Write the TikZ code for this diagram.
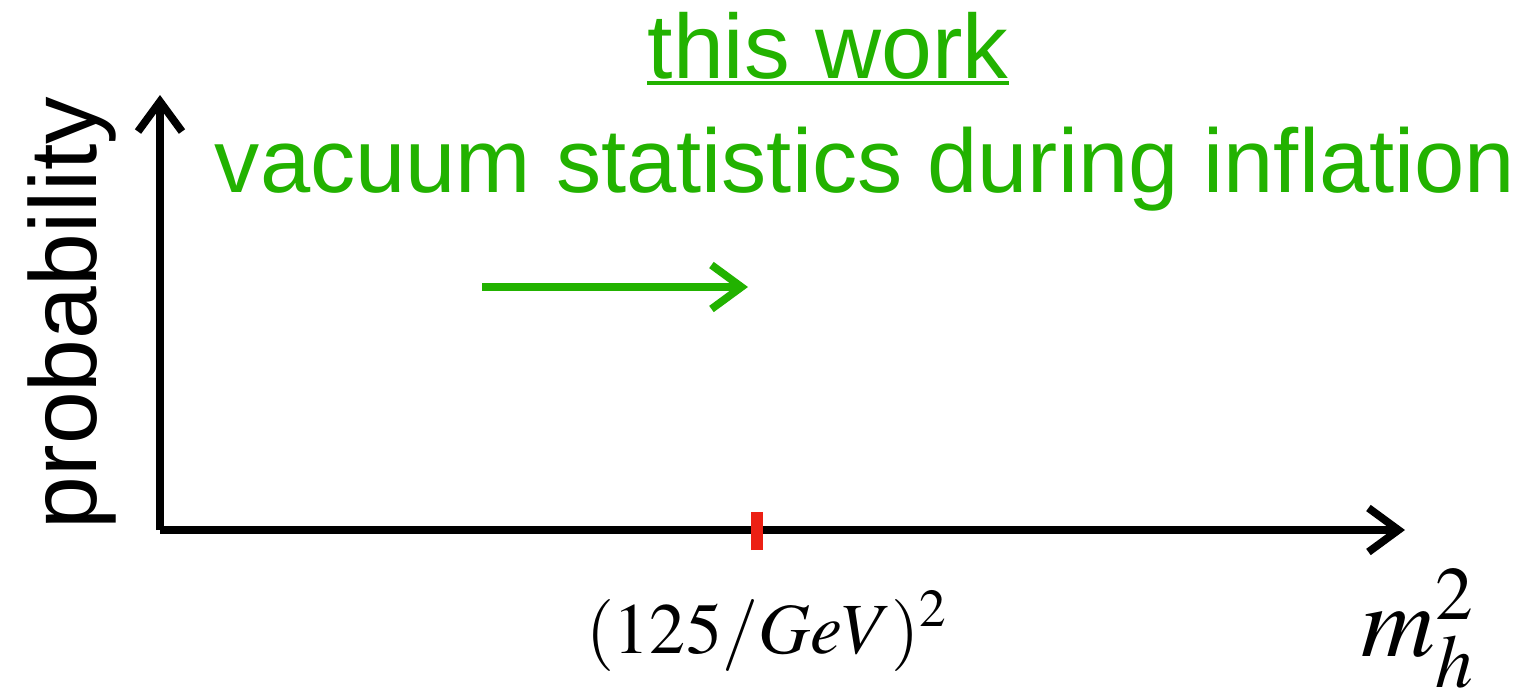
\documentclass[tikz,border=0pt]{standalone}
\usepackage{mathptmx}
\usepackage{fontspec}
\setmainfont{Liberation Sans}
\usetikzlibrary{arrows.meta}
\definecolor{colWork}{RGB}{34,178,0}
\definecolor{colHiggs}{RGB}{236,32,20}

\begin{document}
\begin{tikzpicture}[x=1cm, y=1cm,
    axis/.style={line width=2.2pt, -{Straight Barb[length=3mm,width=4.4mm]}},
    every node/.style={inner sep=0pt}]
    \useasboundingbox (0,0) rectangle (15.2,6.89);

    % axes
    \coordinate (origin) at (1.60,1.59);
    \coordinate (ytip) at (1.60,5.94);
    \coordinate (xtip) at (14.05,1.59);
    \draw[axis] (origin) -- (ytip);
    \draw[axis] (origin) -- (xtip);
    \node[rotate=90, font=\fontsize{27}{27}\selectfont] (ylabel) at (0.72,3.76) {probability};
    \node[anchor=base, font=\fontsize{29}{29}\selectfont] (xlabel) at (14.18,0.33) {$m_h^2$};

    % measured higgs mass
    \coordinate (higgs) at (7.57,1.59);
    \draw[colHiggs, line width=3.6pt] ([yshift=-2mm]higgs) -- ([yshift=1.8mm]higgs);
    \node[anchor=base, font=\fontsize{20.5}{20.5}\selectfont] (higgslabel) at (7.67,0.36) {$(125/GeV)^2$};

    % this work
    \node[anchor=base, colWork, font=\fontsize{26}{26}\selectfont] (work) at (8.28,6.11) {this work};
    \draw[colWork, line width=1pt] ([yshift=-0.5mm]work.base west) -- ([yshift=-0.5mm]work.base east);
    \node[anchor=base, colWork, font=\fontsize{25.7}{25.7}\selectfont] (vacuum) at (8.65,4.97) {vacuum statistics during inflation};
    \coordinate (shiftstart) at (4.82,4.02);
    \coordinate (shiftend) at (7.48,4.02);
    \draw[colWork, axis] (shiftstart) -- (shiftend);
\end{tikzpicture}
\end{document}
